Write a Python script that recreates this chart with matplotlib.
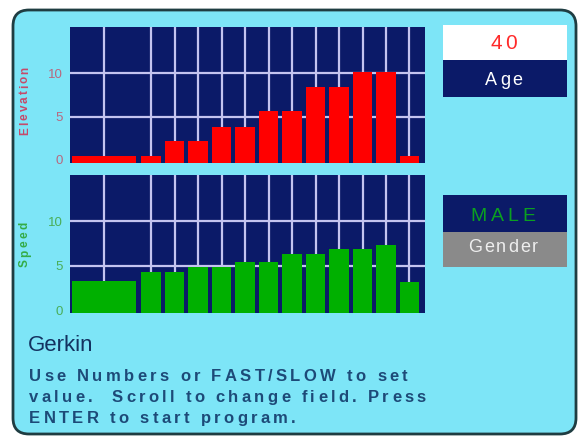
import matplotlib.pyplot as plt
from matplotlib.patches import FancyBboxPatch, Rectangle

# warm-up segment first, then one bar per segment
warmup_pos = -2
seg_pos = [0, 1, 2, 3, 4, 5, 6, 7, 8, 9, 10, 11]
elev_warmup = 0.5
elevation = [0.4, 2.2, 2.2, 3.8, 3.8, 5.6, 5.6, 8.4, 8.4, 10.1, 10.1, 0.5]
speed_warmup = 3.3
speed = [4.3, 4.3, 4.9, 4.9, 5.4, 5.4, 6.3, 6.3, 6.9, 6.9, 7.3, 3.2]
yticks = [0, 5, 10]
ytick_labels = ["0", "5", "10"]

age = "40"
age_label = "Age"
gender = "MALE"
gender_label = "Gender"
name = "Gerkin"
help_lines = ["Use Numbers or FAST/SLOW to set",
              "value.  Scroll to change field. Press",
              "ENTER to start program."]

PANEL = "#7de5f7"
NAVY = "#0b1a68"
GRID = "#c4c4f0"
FONT = "Liberation Sans"

plt.rcParams["font.family"] = FONT

fig = plt.figure(figsize=(5.79, 4.38), dpi=100)
fig.patch.set_facecolor("white")

# background axes in pixel units
bg = fig.add_axes([0, 0, 1, 1])
bg.set_xlim(0, 579)
bg.set_ylim(438, 0)
bg.axis("off")
bg.add_patch(FancyBboxPatch((13, 10), 563, 424, boxstyle="round,pad=0,rounding_size=16",
                            fc=PANEL, ec="#1f3d42", lw=2))


def char_widths(ax, s, **kw):
    r = fig.canvas.get_renderer()
    ws = []
    for ch in s:
        if ch == " ":
            a = ax.text(0, 0, "n n", **kw)
            b = ax.text(0, 0, "nn", **kw)
            w = a.get_window_extent(r).width - b.get_window_extent(r).width
            a.remove()
            b.remove()
        else:
            t = ax.text(0, 0, ch, **kw)
            w = t.get_window_extent(r).width
            t.remove()
        ws.append(w)
    return ws


def spaced(ax, x, y, s, gap, center=False, vertical=False, **kw):
    ws = char_widths(ax, s, **kw)
    total = sum(ws) + gap * (len(s) - 1)
    if center:
        x -= total / 2
    for ch, w in zip(s, ws):
        if ch != " ":
            ax.text(x, y, ch, rotation=90 if vertical else 0, rotation_mode="anchor",
                    ha="left", va="baseline", **kw)
        if vertical:
            y -= w + gap
        else:
            x += w + gap


def profile(rect, warm, vals, color, ymin, ymax, tick_color):
    ax = fig.add_axes(rect)
    ax.set_facecolor(NAVY)
    for s in ax.spines.values():
        s.set_visible(False)
    for x in [warmup_pos] + seg_pos:
        ax.axvline(x, color=GRID, lw=1.6, zorder=1)
    for y in yticks[1:]:
        ax.axhline(y, color=GRID, lw=1.6, zorder=1)
    ax.bar([warmup_pos], [warm - ymin], bottom=ymin, width=2.7, color=color, zorder=2)
    ax.bar(seg_pos, [v - ymin for v in vals], bottom=ymin, width=0.82, color=color, zorder=2)
    ax.set_xlim(-3.45, 11.66)
    ax.set_ylim(ymin, ymax)
    ax.set_xticks([])
    ax.set_yticks(yticks)
    ax.set_yticklabels(ytick_labels)
    ax.tick_params(axis="y", length=0, pad=5, labelsize=9.5, labelcolor=tick_color)
    return ax


ax1 = profile([70 / 579, 1 - 163 / 438, 355 / 579, 136 / 438], elev_warmup, elevation,
              "#ff0000", -0.35, 15.3, "#b8687f")
ax2 = profile([70 / 579, 1 - 313 / 438, 355 / 579, 138 / 438], speed_warmup, speed,
              "#00b000", -0.3, 15.2, "#4aae58")

spaced(bg, 28, 135, "Elevation", 2.0, vertical=True, fontsize=8.5, fontweight="bold",
       color="#c64a6a")
spaced(bg, 28, 267, "Speed", 2.4, vertical=True, fontsize=8.5, fontweight="bold",
       color="#34ac46")

# right-hand fields
bg.add_patch(Rectangle((443, 25), 124, 35, fc="white", ec="none"))
bg.add_patch(Rectangle((443, 60), 124, 37, fc=NAVY, ec="none"))
bg.add_patch(Rectangle((443, 195), 124, 37, fc=NAVY, ec="none"))
bg.add_patch(Rectangle((443, 232), 124, 35, fc="#8a8a8a", ec="none"))
spaced(bg, 504, 49, age, 3, center=True, fontsize=15, color="#ff2a2a")
spaced(bg, 504, 85, age_label, 2.5, center=True, fontsize=13, color="white")
spaced(bg, 503, 221, gender, 4, center=True, fontsize=14, color="#0aa020")
spaced(bg, 503, 252, gender_label, 2, center=True, fontsize=13, color="#eeeeee")

# help text
bg.text(28, 351, name, fontsize=16, color="#133260", ha="left", va="baseline")
for line, y in zip(help_lines, [381, 402, 423]):
    spaced(bg, 29, y, line, 3.3, fontsize=12, fontweight="bold", color="#1d4a78")

fig.savefig("out.png", dpi=100)
